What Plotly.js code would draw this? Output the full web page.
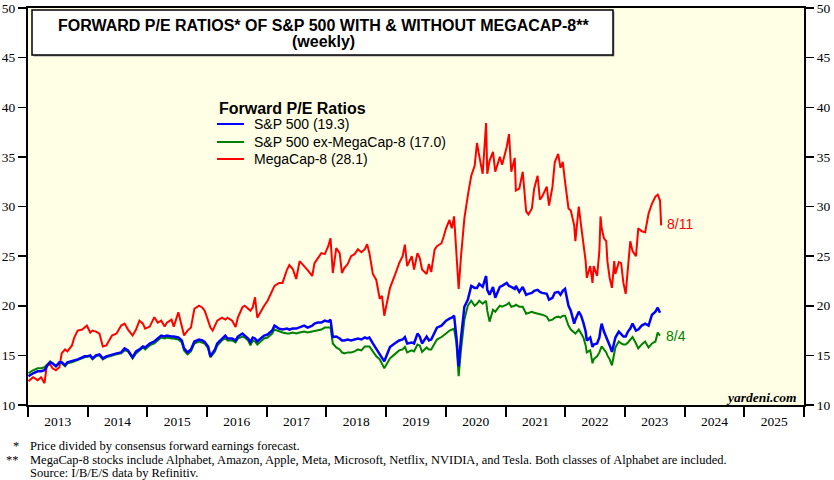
<!DOCTYPE html>
<html><head><meta charset="utf-8">
<script src="https://cdn.plot.ly/plotly-3.0.1.min.js"></script>
<style>html,body{margin:0;padding:0;background:#fff;}#chart{width:834px;height:480px;}</style>
</head><body><div id="chart"></div>
<script>
// ---- data (weekly readings, sampled) ----
const weeks = [
"2013-01-04","2013-02-01","2013-03-01","2013-03-22","2013-04-12","2013-04-26","2013-05-17","2013-05-31","2013-06-21","2013-07-12","2013-07-26","2013-08-16","2013-08-30","2013-09-27","2013-10-11","2013-11-01","2013-11-29","2013-12-13","2013-12-27",
"2014-01-17","2014-01-31","2014-02-21","2014-03-14","2014-04-04","2014-04-25","2014-05-30","2014-06-27","2014-07-25","2014-08-15","2014-09-05","2014-10-03","2014-10-24","2014-11-14","2014-12-05","2014-12-19",
"2015-01-16","2015-02-13","2015-03-06","2015-03-27","2015-04-17","2015-05-01","2015-05-29","2015-06-12","2015-07-10","2015-07-31","2015-08-14","2015-09-04","2015-09-25","2015-10-16","2015-11-13","2015-12-04","2015-12-18",
"2016-01-08","2016-01-22","2016-02-05","2016-02-19","2016-03-04","2016-04-01","2016-04-22","2016-05-06","2016-06-03","2016-06-24","2016-07-08","2016-08-05","2016-08-19","2016-09-09","2016-09-23","2016-10-07","2016-10-21","2016-11-04","2016-12-02","2016-12-16",
"2017-01-06","2017-02-03","2017-02-17","2017-03-17","2017-04-07","2017-05-05","2017-05-19","2017-06-09","2017-06-30","2017-07-21","2017-08-18","2017-09-08","2017-10-06","2017-10-20","2017-11-10","2017-12-01","2017-12-22",
"2018-01-12","2018-01-26","2018-02-09","2018-03-02","2018-03-23","2018-04-06","2018-04-20","2018-05-11","2018-06-01","2018-06-22","2018-07-13","2018-08-03","2018-08-24","2018-09-07","2018-09-21","2018-10-12","2018-11-02","2018-11-23","2018-12-07","2018-12-21",
"2019-01-11","2019-01-25","2019-02-22","2019-03-22","2019-04-12","2019-04-26","2019-05-10","2019-06-07","2019-06-21","2019-07-12","2019-07-26","2019-08-09","2019-09-06","2019-09-20","2019-10-04","2019-10-25","2019-11-08","2019-12-06","2019-12-20",
"2020-01-03","2020-01-24","2020-02-07","2020-02-21","2020-03-06","2020-03-20","2020-04-03","2020-04-24","2020-05-15","2020-06-05","2020-06-26","2020-07-10","2020-07-24","2020-08-14","2020-09-04","2020-09-11","2020-09-25","2020-10-16","2020-10-30","2020-11-27","2020-12-11",
"2021-01-08","2021-01-22","2021-02-05","2021-02-26","2021-03-05","2021-03-26","2021-04-16","2021-05-07","2021-05-21","2021-06-11","2021-06-25","2021-07-16","2021-07-30","2021-08-13","2021-09-10","2021-09-24","2021-10-15","2021-10-29","2021-11-19","2021-12-03","2021-12-17","2021-12-31",
"2022-01-21","2022-02-04","2022-02-25","2022-03-04","2022-03-25","2022-04-08","2022-04-22","2022-05-06","2022-05-13","2022-06-03","2022-06-17","2022-06-24","2022-07-15","2022-07-29","2022-08-05","2022-08-12","2022-08-26","2022-09-09","2022-09-16","2022-09-30","2022-10-14","2022-10-28","2022-11-04","2022-11-25","2022-12-09","2022-12-23",
"2023-01-06","2023-01-20","2023-02-03","2023-02-17","2023-03-10","2023-03-24","2023-04-14","2023-05-05","2023-05-26","2023-06-16","2023-07-07","2023-07-21","2023-08-04","2023-08-11"
];
const sp500 = [
12.9,13.2,13.4,13.4,13.5,13.9,14.3,14.2,13.9,14.3,14.3,14.0,14.3,14.4,14.5,14.6,14.8,14.9,14.9,
15.0,14.7,15.0,15.1,14.7,14.9,15.1,15.2,15.3,15.7,15.5,14.8,15.4,15.6,15.9,15.8,
16.2,16.4,16.7,17.0,16.9,17.0,16.9,16.9,16.8,16.5,15.7,15.3,15.6,16.4,16.6,16.5,16.35,
15.9,14.9,15.3,15.6,16.2,16.7,17.0,16.7,16.7,16.5,16.9,17.2,17.0,16.7,16.35,16.8,16.7,16.4,16.8,17.0,
17.1,17.5,18.0,17.7,17.6,17.7,17.6,17.7,17.7,17.8,18.0,17.8,18.0,18.2,18.3,18.3,18.5,
18.4,18.6,16.85,16.9,16.7,16.5,16.5,16.6,16.5,16.6,16.7,16.6,16.8,16.7,16.8,16.2,15.7,15.2,14.75,14.4,
15.2,15.85,16.2,16.5,16.6,16.85,16.2,16.3,16.2,17.2,16.9,16.2,16.9,16.5,16.6,17.3,17.8,18.0,18.3,
18.5,18.7,18.8,19.0,16.9,13.9,16.7,19.9,20.6,22.0,21.8,21.8,22.2,21.9,23.0,21.6,21.1,21.9,20.8,21.9,22.0,
22.3,22.0,21.9,21.7,22.0,21.4,21.9,21.1,21.2,21.3,21.5,21.6,21.4,21.3,21.2,20.6,20.8,21.3,21.4,21.1,21.5,21.7,
20.0,19.5,18.2,18.6,19.4,19.0,18.3,17.4,16.5,16.8,15.85,16.1,16.2,16.8,17.6,18.2,17.4,16.9,16.6,16.0,15.35,16.5,16.8,17.4,17.2,16.9,
16.9,17.4,17.7,18.2,17.5,17.6,18.0,18.2,18.0,19.1,19.4,19.8,19.3,null
];
const exMega8 = [
13.2,13.5,13.7,13.7,13.8,14.0,14.4,14.2,13.9,14.2,14.2,13.9,14.2,14.3,14.4,14.5,14.7,14.8,14.85,
14.9,14.6,14.9,15.0,14.6,14.8,15.0,15.1,15.2,15.5,15.4,14.7,15.2,15.5,15.8,15.6,
16.0,16.2,16.5,16.8,16.7,16.8,16.7,16.7,16.6,16.3,15.5,15.1,15.4,16.2,16.4,16.3,16.2,
15.7,14.8,15.1,15.4,16.0,16.5,16.7,16.5,16.5,16.3,16.7,16.9,16.8,16.5,16.0,16.5,16.4,16.1,16.5,16.7,
16.8,17.2,17.6,17.4,17.3,17.2,17.2,17.3,17.2,17.3,17.4,17.3,17.4,17.5,17.6,17.6,17.8,
17.8,17.8,16.2,15.8,15.6,15.3,15.2,15.3,15.3,15.4,15.6,15.5,15.9,15.9,15.9,15.4,14.9,14.6,14.2,13.7,
14.3,14.7,15.1,15.5,15.6,15.85,15.3,15.5,15.4,16.1,16.0,15.35,15.8,15.6,15.6,16.2,16.6,16.85,17.0,
17.2,17.5,17.6,17.7,16.3,12.9,15.5,18.6,20.0,20.5,20.0,20.2,20.5,20.2,20.5,19.5,18.4,19.6,19.4,20.0,19.9,
20.1,20.3,19.9,20.0,20.1,19.9,19.9,19.2,19.3,19.4,19.3,19.2,19.2,19.1,18.9,18.5,18.6,18.8,18.9,18.8,19.0,19.0,
18.0,17.6,17.3,17.2,17.6,17.2,16.8,16.0,15.3,15.5,14.2,14.6,14.9,15.3,15.7,15.9,15.6,15.3,15.0,14.6,14.0,15.2,15.8,16.4,16.2,16.1,
16.1,16.3,16.6,16.85,16.2,15.7,16.1,16.4,15.8,16.2,16.4,17.3,17.0,null
];
const mega8 = [
12.4,12.8,12.5,12.8,12.2,14.0,14.1,13.7,13.5,13.8,15.2,15.6,15.4,16.0,16.8,17.5,17.6,17.85,18.0,
17.3,17.5,17.4,17.2,15.9,16.0,17.0,17.2,18.0,18.2,17.6,17.0,17.6,18.5,18.2,17.7,
17.9,18.85,18.3,18.5,17.9,18.3,18.6,17.9,19.35,17.9,17.0,17.5,17.8,19.7,20.0,19.8,19.5,
18.5,17.8,17.5,18.0,18.5,18.8,18.6,18.8,18.5,17.85,18.8,19.85,20.0,19.7,19.5,19.85,20.85,18.8,19.7,20.0,
20.5,21.5,22.0,22.3,22.3,23.65,24.1,23.7,22.7,24.5,24.0,23.6,23.0,24.3,24.8,25.3,25.2,
26.0,26.8,23.3,25.8,25.3,23.3,23.8,24.2,25.0,25.2,25.7,25.4,25.7,26.2,25.3,23.2,22.6,20.7,21.0,19.0,
20.9,21.8,23.0,24.3,25.0,26.15,24.0,25.0,23.65,25.3,24.8,23.65,23.2,24.2,23.4,25.65,26.0,26.3,27.0,
27.8,28.65,27.8,29.0,25.3,21.7,24.9,28.8,31.1,33.1,34.1,36.4,35.1,33.3,38.4,33.3,34.6,35.5,33.5,35.0,34.2,
36.0,37.3,33.5,34.9,31.6,31.8,33.5,29.5,29.2,29.8,31.8,33.1,30.7,31.0,32.0,30.1,32.0,34.45,35.3,33.9,34.5,32.5,
29.8,29.6,28.1,26.5,30.0,28.1,26.2,24.5,22.8,24.0,22.3,24.0,23.0,25.5,29.0,27.8,26.8,26.5,24.5,22.8,21.8,24.5,23.2,24.4,24.3,22.3,
21.2,23.8,26.5,25.5,25.0,27.8,27.5,27.4,29.3,30.3,31.0,31.2,30.6,28.1
];
const seriesNames = ["S&P 500 (19.3)", "S&P 500 ex-MegaCap-8 (17.0)", "MegaCap-8 (28.1)"];
const seriesColors = ["#0000ff", "#008000", "#ff0000"];
const lastDates = {sp: "8/4", mega: "8/11"};
const yTicks = [10,15,20,25,30,35,40,45,50];

// ---- layout helpers ----
const W = 834, H = 480, M = {l: 28, r: 30, t: 8, b: 75};
const PW = W - M.l - M.r, PH = H - M.t - M.b;
const px = x => (x - M.l) / PW;
const py = y => 1 - (y - M.t) / PH;
const SANS = "Liberation Sans, Arial, sans-serif";
const SERIF = "Liberation Serif, Times New Roman, serif";

const traces = [
  {x: weeks, y: mega8, name: seriesNames[2], mode: "lines", line: {color: seriesColors[2], width: 2}},
  {x: weeks, y: exMega8, name: seriesNames[1], mode: "lines", line: {color: seriesColors[1], width: 2}},
  {x: weeks, y: sp500, name: seriesNames[0], mode: "lines", line: {color: seriesColors[0], width: 2.5}},
  {x: weeks, y: sp500, yaxis: "y2", mode: "lines", line: {width: 0, color: "rgba(0,0,0,0)"}, hoverinfo: "skip"}
];

const axisY = {
  range: [10, 50], tickvals: yTicks, ticks: "outside", ticklen: 8, tickwidth: 1.5, tickcolor: "#000",
  showline: true, linewidth: 2, linecolor: "#000", showgrid: false, zeroline: false,
  ticklabeloverflow: "allow",
  tickfont: {family: SERIF, size: 13.5, color: "#000"}, fixedrange: true
};

// manual legend (title + line samples + labels)
const legendX = 217, legendTitleY = 108, legendRows = [124, 142, 159];
const legendShapes = legendRows.map((y, i) => ({
  type: "line", xref: "paper", yref: "paper", x0: px(legendX), x1: px(legendX + 27), y0: py(y), y1: py(y),
  line: {color: seriesColors[i], width: 2}
}));
const legendTexts = legendRows.map((y, i) => ({
  xref: "paper", yref: "paper", x: px(252), y: py(y), text: seriesNames[i], showarrow: false,
  font: {family: SANS, size: 14, color: "#000"}, xanchor: "left", yanchor: "middle"
}));

const noteFont = {family: SERIF, size: 12.5, color: "#000"};

const layout = {
  width: W, height: H, margin: M,
  paper_bgcolor: "#ffffff", plot_bgcolor: "#ffffe5",
  showlegend: false,
  xaxis: {
    type: "date", range: ["2013-01-01", "2026-01-01"],
    tick0: "2013-01-01", dtick: "M12", ticklabelmode: "period", tickformat: "%Y",
    ticks: "outside", ticklen: 10, tickwidth: 2, tickcolor: "#000",
    ticklabelstandoff: -7,
    showline: true, linewidth: 2, linecolor: "#000", mirror: true,
    showgrid: false, zeroline: false,
    tickfont: {family: SERIF, size: 13.5, color: "#000"}, fixedrange: true
  },
  yaxis: Object.assign({}, axisY, {side: "left"}),
  yaxis2: Object.assign({}, axisY, {side: "right", overlaying: "y"}),
  shapes: [
    {type: "rect", xref: "paper", yref: "paper", x0: px(33.5), x1: px(614.5), y0: py(56.5), y1: py(11.5), fillcolor: "#a0a0a0", line: {width: 0}, layer: "above"},
    {type: "rect", xref: "paper", yref: "paper", x0: px(32), x1: px(613), y0: py(55), y1: py(10), fillcolor: "#ffffff", line: {color: "#000", width: 1.5}, layer: "above"}
  ].concat(legendShapes),
  annotations: [
    {xref: "paper", yref: "paper", x: px(323), y: py(25), text: "<b>FORWARD P/E RATIOS* OF S&P 500 WITH & WITHOUT MEGACAP-8**</b>", showarrow: false, font: {family: SANS, size: 16, color: "#000"}, xanchor: "center", yanchor: "middle"},
    {xref: "paper", yref: "paper", x: px(323), y: py(41.5), text: "<b>(weekly)</b>", showarrow: false, font: {family: SANS, size: 16, color: "#000"}, xanchor: "center", yanchor: "middle"},
    {xref: "paper", yref: "paper", x: px(legendX), y: py(legendTitleY), text: "<b>Forward P/E Ratios</b>", showarrow: false, font: {family: SANS, size: 16, color: "#000"}, xanchor: "left", yanchor: "middle"},
    {xref: "paper", yref: "paper", x: px(665), y: py(224), text: lastDates.mega, showarrow: false, font: {family: SANS, size: 14, color: seriesColors[2]}, xanchor: "left", yanchor: "middle"},
    {xref: "paper", yref: "paper", x: px(664), y: py(336), text: lastDates.sp, showarrow: false, font: {family: SANS, size: 14, color: seriesColors[1]}, xanchor: "left", yanchor: "middle"},
    {xref: "paper", yref: "paper", x: px(799), y: py(397), text: "<b><i>yardeni.com</i></b>", showarrow: false, font: {family: SERIF, size: 13.5, color: "#000"}, xanchor: "right", yanchor: "middle"},
    {xref: "paper", yref: "paper", x: px(21), y: py(446), text: "*", showarrow: false, font: noteFont, xanchor: "right", yanchor: "middle"},
    {xref: "paper", yref: "paper", x: px(28), y: py(446), text: "Price divided by consensus forward earnings forecast.", showarrow: false, font: noteFont, xanchor: "left", yanchor: "middle"},
    {xref: "paper", yref: "paper", x: px(21), y: py(459.5), text: "**", showarrow: false, font: noteFont, xanchor: "right", yanchor: "middle"},
    {xref: "paper", yref: "paper", x: px(28), y: py(459.5), text: "MegaCap-8 stocks include Alphabet, Amazon, Apple, Meta, Microsoft, Netflix, NVIDIA, and Tesla. Both classes of Alphabet are included.", showarrow: false, font: noteFont, xanchor: "left", yanchor: "middle"},
    {xref: "paper", yref: "paper", x: px(28), y: py(473), text: "Source: I/B/E/S data by Refinitiv.", showarrow: false, font: noteFont, xanchor: "left", yanchor: "middle"}
  ].concat(legendTexts)
};

Plotly.newPlot("chart", traces, layout, {displayModeBar: false, staticPlot: true});
</script>
</body></html>
